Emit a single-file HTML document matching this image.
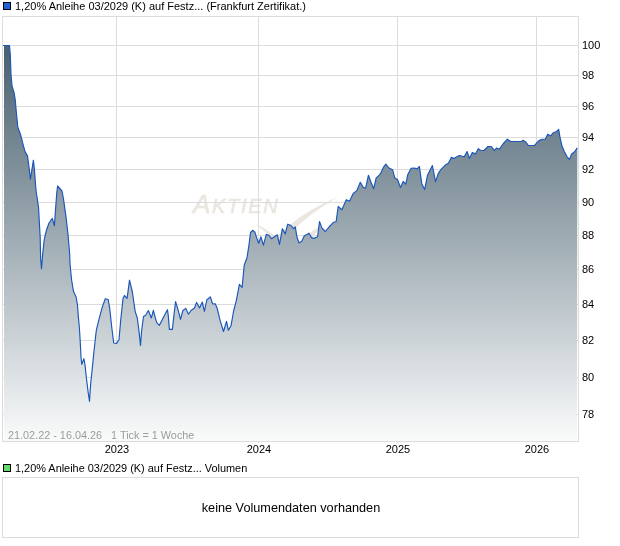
<!DOCTYPE html>
<html lang="de"><head><meta charset="utf-8"><title>Chart</title>
<style>
html,body{margin:0;padding:0;background:#fff;}
body{width:620px;height:546px;overflow:hidden;font-family:"Liberation Sans",sans-serif;}
svg{display:block;}
svg text{font-family:"Liberation Sans",sans-serif;font-size:11px;fill:#000;}
</style></head><body>
<svg width="620" height="546" viewBox="0 0 620 546">
<defs>
<linearGradient id="g" gradientUnits="userSpaceOnUse" x1="0" y1="45" x2="0" y2="441">
<stop offset="0" stop-color="#48606f"/>
<stop offset="1" stop-color="#fafbfb"/>
</linearGradient>
</defs>
<rect x="0" y="0" width="620" height="546" fill="#fff"/>
<!-- legend -->
<rect x="3.5" y="2.5" width="7" height="7" fill="#1f62d6" stroke="#000" stroke-width="1"/>
<text x="15" y="10">1,20% Anleihe 03/2029 (K) auf Festz... (Frankfurt Zertifikat.)</text>
<!-- watermark -->
<g fill="#ebe6e0">
<text x="193" y="213" style="font-size:26px;font-style:italic;fill:#ebe6e0;stroke:#ebe6e0;stroke-width:0.7px;letter-spacing:1.7px">A<tspan style="font-size:20px">KTIEN</tspan></text>
<path d="M255.5,224 C262,226.5 269,231 277,237 L273,240 C267,233 261,228 255.5,224 Z"/>
<path d="M273,241 C288,224 310,208 340,196 C316,209 298,224 283,241 Z"/>
<path d="M305,238 L312,231 L319,227 L318,231 L312,238 Z"/>
</g>
<!-- plot frame + grid -->
<g stroke="#dcdcdc" stroke-width="1" shape-rendering="crispEdges"><line x1="3" y1="45.5" x2="578" y2="45.5"/><line x1="3" y1="75.5" x2="578" y2="75.5"/><line x1="3" y1="106.5" x2="578" y2="106.5"/><line x1="3" y1="137.5" x2="578" y2="137.5"/><line x1="3" y1="169.5" x2="578" y2="169.5"/><line x1="3" y1="202.5" x2="578" y2="202.5"/><line x1="3" y1="235.5" x2="578" y2="235.5"/><line x1="3" y1="269.5" x2="578" y2="269.5"/><line x1="3" y1="304.5" x2="578" y2="304.5"/><line x1="3" y1="340.5" x2="578" y2="340.5"/><line x1="3" y1="377.5" x2="578" y2="377.5"/><line x1="3" y1="414.5" x2="578" y2="414.5"/><line x1="116.5" y1="16" x2="116.5" y2="441"/><line x1="258.5" y1="16" x2="258.5" y2="441"/><line x1="397.5" y1="16" x2="397.5" y2="441"/><line x1="536.5" y1="16" x2="536.5" y2="441"/></g>
<!-- area -->
<polygon points="4,441 4,45.5 9.5,45.5 10.3,54.8 11.0,74.8 12.0,85.8 14.0,92.3 15.2,99.4 16.1,109.7 17.1,120.0 17.7,126.6 20.6,134.7 22.6,142.7 25.0,151.6 27.4,155.6 28.7,164.5 30.4,179.2 33.4,160.2 34.4,169.4 35.5,184.0 36.1,191.0 38.5,207.0 40.2,237.7 40.6,257.7 41.5,268.7 42.6,254.5 44.2,240.0 45.0,236.0 46.6,229.7 49.0,223.0 52.3,218.4 54.4,225.6 55.5,210.0 56.8,192.6 57.6,186.0 62.0,191.0 63.5,199.0 66.0,216.8 68.0,234.5 69.7,254.0 70.0,264.0 71.6,280.0 73.5,291.6 76.1,297.0 77.4,304.5 78.4,317.4 79.4,328.0 80.2,341.0 81.0,357.0 81.8,364.4 83.9,358.7 85.0,365.0 86.6,379.7 88.2,392.6 89.5,401.5 90.6,384.5 92.3,368.4 93.9,352.0 95.8,334.5 96.5,329.4 98.9,319.7 102.1,307.6 105.3,298.7 108.2,299.5 109.7,308.4 111.8,327.7 113.7,343.0 116.6,343.4 119.0,339.8 120.6,321.3 123.0,298.7 124.4,295.5 127.1,298.4 129.5,280.2 132.3,291.5 135.2,311.6 137.3,318.0 139.2,332.6 140.5,345.5 141.6,331.0 143.5,316.5 145.6,315.2 148.4,310.5 151.3,318.0 153.4,310.3 155.3,318.0 156.9,322.9 159.4,325.3 162.6,318.9 167.4,309.7 168.2,314.8 169.4,329.4 172.4,329.4 174.0,314.5 175.6,301.6 178.0,309.7 180.5,319.4 182.9,310.5 185.8,308.4 188.5,314.2 191.0,310.5 194.5,308.0 196.6,302.4 199.5,308.0 202.3,302.0 204.4,311.3 206.8,300.0 210.3,296.8 212.7,304.0 215.2,303.7 217.1,308.0 220.0,320.2 223.5,331.5 226.5,321.3 228.4,330.3 231.0,325.8 233.7,310.5 236.1,301.6 239.4,284.4 242.1,287.4 244.2,265.3 247.0,257.7 249.0,244.8 250.5,232.7 252.6,230.3 255.0,232.3 256.6,237.6 258.7,243.2 261.0,236.8 263.4,245.2 266.3,234.4 268.7,235.2 271.6,238.7 274.4,236.8 277.3,234.8 279.5,244.5 282.4,228.7 285.3,233.9 287.7,224.2 290.5,225.2 293.7,228.7 295.3,226.8 296.9,236.8 299.0,242.9 301.8,241.3 304.2,236.0 309.0,233.2 311.5,237.6 313.9,238.4 317.6,236.8 319.5,221.5 321.9,227.9 325.3,231.5 329.4,226.6 333.4,222.3 336.1,221.8 338.2,206.5 341.9,209.7 346.3,199.7 349.5,201.3 353.2,193.5 356.8,190.6 360.3,182.3 363.2,187.4 365.6,188.2 368.4,175.3 371.0,182.3 373.7,188.7 376.1,178.2 380.2,174.2 383.4,167.4 385.8,164.2 389.0,168.0 392.6,169.7 394.7,177.7 397.6,179.8 400.4,187.4 403.2,181.4 405.8,184.2 407.7,174.8 411.0,168.4 414.2,168.0 417.1,168.9 419.4,166.5 421.8,183.7 424.7,189.4 427.4,175.6 430.0,170.3 432.4,165.5 435.5,181.6 438.4,173.2 441.3,169.2 445.6,164.8 448.4,163.2 451.3,157.4 453.7,158.4 459.4,155.5 464.2,156.8 467.1,151.5 469.4,158.4 472.3,152.6 475.5,153.9 478.2,148.7 480.6,150.3 484.0,150.5 488.0,146.5 491.3,146.5 494.5,150.3 496.6,148.0 499.4,149.2 503.4,143.5 507.4,139.2 510.6,141.5 521.1,141.5 523.2,140.3 526.0,142.3 528.4,145.5 534.5,145.5 538.9,140.6 542.1,139.2 545.3,139.2 547.7,134.2 550.6,135.8 553.4,132.7 556.6,131.5 558.7,129.4 559.8,136.3 562.0,146.0 564.7,152.4 567.1,156.8 569.5,159.4 571.6,154.0 574.4,152.0 577.3,147.8 577,441" fill="url(#g)"/>
<polyline points="3.0,45.5 9.5,45.5 10.3,54.8 11.0,74.8 12.0,85.8 14.0,92.3 15.2,99.4 16.1,109.7 17.1,120.0 17.7,126.6 20.6,134.7 22.6,142.7 25.0,151.6 27.4,155.6 28.7,164.5 30.4,179.2 33.4,160.2 34.4,169.4 35.5,184.0 36.1,191.0 38.5,207.0 40.2,237.7 40.6,257.7 41.5,268.7 42.6,254.5 44.2,240.0 45.0,236.0 46.6,229.7 49.0,223.0 52.3,218.4 54.4,225.6 55.5,210.0 56.8,192.6 57.6,186.0 62.0,191.0 63.5,199.0 66.0,216.8 68.0,234.5 69.7,254.0 70.0,264.0 71.6,280.0 73.5,291.6 76.1,297.0 77.4,304.5 78.4,317.4 79.4,328.0 80.2,341.0 81.0,357.0 81.8,364.4 83.9,358.7 85.0,365.0 86.6,379.7 88.2,392.6 89.5,401.5 90.6,384.5 92.3,368.4 93.9,352.0 95.8,334.5 96.5,329.4 98.9,319.7 102.1,307.6 105.3,298.7 108.2,299.5 109.7,308.4 111.8,327.7 113.7,343.0 116.6,343.4 119.0,339.8 120.6,321.3 123.0,298.7 124.4,295.5 127.1,298.4 129.5,280.2 132.3,291.5 135.2,311.6 137.3,318.0 139.2,332.6 140.5,345.5 141.6,331.0 143.5,316.5 145.6,315.2 148.4,310.5 151.3,318.0 153.4,310.3 155.3,318.0 156.9,322.9 159.4,325.3 162.6,318.9 167.4,309.7 168.2,314.8 169.4,329.4 172.4,329.4 174.0,314.5 175.6,301.6 178.0,309.7 180.5,319.4 182.9,310.5 185.8,308.4 188.5,314.2 191.0,310.5 194.5,308.0 196.6,302.4 199.5,308.0 202.3,302.0 204.4,311.3 206.8,300.0 210.3,296.8 212.7,304.0 215.2,303.7 217.1,308.0 220.0,320.2 223.5,331.5 226.5,321.3 228.4,330.3 231.0,325.8 233.7,310.5 236.1,301.6 239.4,284.4 242.1,287.4 244.2,265.3 247.0,257.7 249.0,244.8 250.5,232.7 252.6,230.3 255.0,232.3 256.6,237.6 258.7,243.2 261.0,236.8 263.4,245.2 266.3,234.4 268.7,235.2 271.6,238.7 274.4,236.8 277.3,234.8 279.5,244.5 282.4,228.7 285.3,233.9 287.7,224.2 290.5,225.2 293.7,228.7 295.3,226.8 296.9,236.8 299.0,242.9 301.8,241.3 304.2,236.0 309.0,233.2 311.5,237.6 313.9,238.4 317.6,236.8 319.5,221.5 321.9,227.9 325.3,231.5 329.4,226.6 333.4,222.3 336.1,221.8 338.2,206.5 341.9,209.7 346.3,199.7 349.5,201.3 353.2,193.5 356.8,190.6 360.3,182.3 363.2,187.4 365.6,188.2 368.4,175.3 371.0,182.3 373.7,188.7 376.1,178.2 380.2,174.2 383.4,167.4 385.8,164.2 389.0,168.0 392.6,169.7 394.7,177.7 397.6,179.8 400.4,187.4 403.2,181.4 405.8,184.2 407.7,174.8 411.0,168.4 414.2,168.0 417.1,168.9 419.4,166.5 421.8,183.7 424.7,189.4 427.4,175.6 430.0,170.3 432.4,165.5 435.5,181.6 438.4,173.2 441.3,169.2 445.6,164.8 448.4,163.2 451.3,157.4 453.7,158.4 459.4,155.5 464.2,156.8 467.1,151.5 469.4,158.4 472.3,152.6 475.5,153.9 478.2,148.7 480.6,150.3 484.0,150.5 488.0,146.5 491.3,146.5 494.5,150.3 496.6,148.0 499.4,149.2 503.4,143.5 507.4,139.2 510.6,141.5 521.1,141.5 523.2,140.3 526.0,142.3 528.4,145.5 534.5,145.5 538.9,140.6 542.1,139.2 545.3,139.2 547.7,134.2 550.6,135.8 553.4,132.7 556.6,131.5 558.7,129.4 559.8,136.3 562.0,146.0 564.7,152.4 567.1,156.8 569.5,159.4 571.6,154.0 574.4,152.0 577.3,147.8" fill="none" stroke="#1a56b8" stroke-width="1.15" stroke-linejoin="round"/>
<g stroke="#dcdcdc" stroke-width="1" shape-rendering="crispEdges"><line x1="577" y1="45.5" x2="578" y2="45.5"/><line x1="577" y1="75.5" x2="578" y2="75.5"/><line x1="577" y1="106.5" x2="578" y2="106.5"/><line x1="577" y1="137.5" x2="578" y2="137.5"/><line x1="577" y1="169.5" x2="578" y2="169.5"/><line x1="577" y1="202.5" x2="578" y2="202.5"/><line x1="577" y1="235.5" x2="578" y2="235.5"/><line x1="577" y1="269.5" x2="578" y2="269.5"/><line x1="577" y1="304.5" x2="578" y2="304.5"/><line x1="577" y1="340.5" x2="578" y2="340.5"/><line x1="577" y1="377.5" x2="578" y2="377.5"/><line x1="577" y1="414.5" x2="578" y2="414.5"/><line x1="116.5" y1="441" x2="116.5" y2="443"/><line x1="258.5" y1="441" x2="258.5" y2="443"/><line x1="397.5" y1="441" x2="397.5" y2="443"/><line x1="536.5" y1="441" x2="536.5" y2="443"/></g>
<rect x="2.5" y="16.5" width="576" height="425" fill="none" stroke="#dcdcdc" stroke-width="1" shape-rendering="crispEdges"/>
<text x="8" y="439" style="fill:#9c9c9c;font-size:10.85px">21.02.22 - 16.04.26&#160;&#160;&#160;1 Tick = 1 Woche</text>
<text x="582" y="49">100</text><text x="582" y="79">98</text><text x="582" y="110">96</text><text x="582" y="141">94</text><text x="582" y="173">92</text><text x="582" y="206">90</text><text x="582" y="239">88</text><text x="582" y="273">86</text><text x="582" y="308">84</text><text x="582" y="344">82</text><text x="582" y="381">80</text><text x="582" y="418">78</text>
<text x="117" y="453" text-anchor="middle">2023</text><text x="259" y="453" text-anchor="middle">2024</text><text x="398" y="453" text-anchor="middle">2025</text><text x="537" y="453" text-anchor="middle">2026</text>
<!-- volume -->
<rect x="3.5" y="464.5" width="7" height="7" fill="#66d96b" stroke="#000" stroke-width="1"/>
<text x="15" y="472" style="font-size:10.92px">1,20% Anleihe 03/2029 (K) auf Festz... Volumen</text>
<rect x="2.5" y="477.5" width="576" height="60" fill="#fff" stroke="#dcdcdc" stroke-width="1"/>
<text x="291" y="511.5" text-anchor="middle" style="font-size:12.7px">keine Volumendaten vorhanden</text>
</svg>
</body></html>
